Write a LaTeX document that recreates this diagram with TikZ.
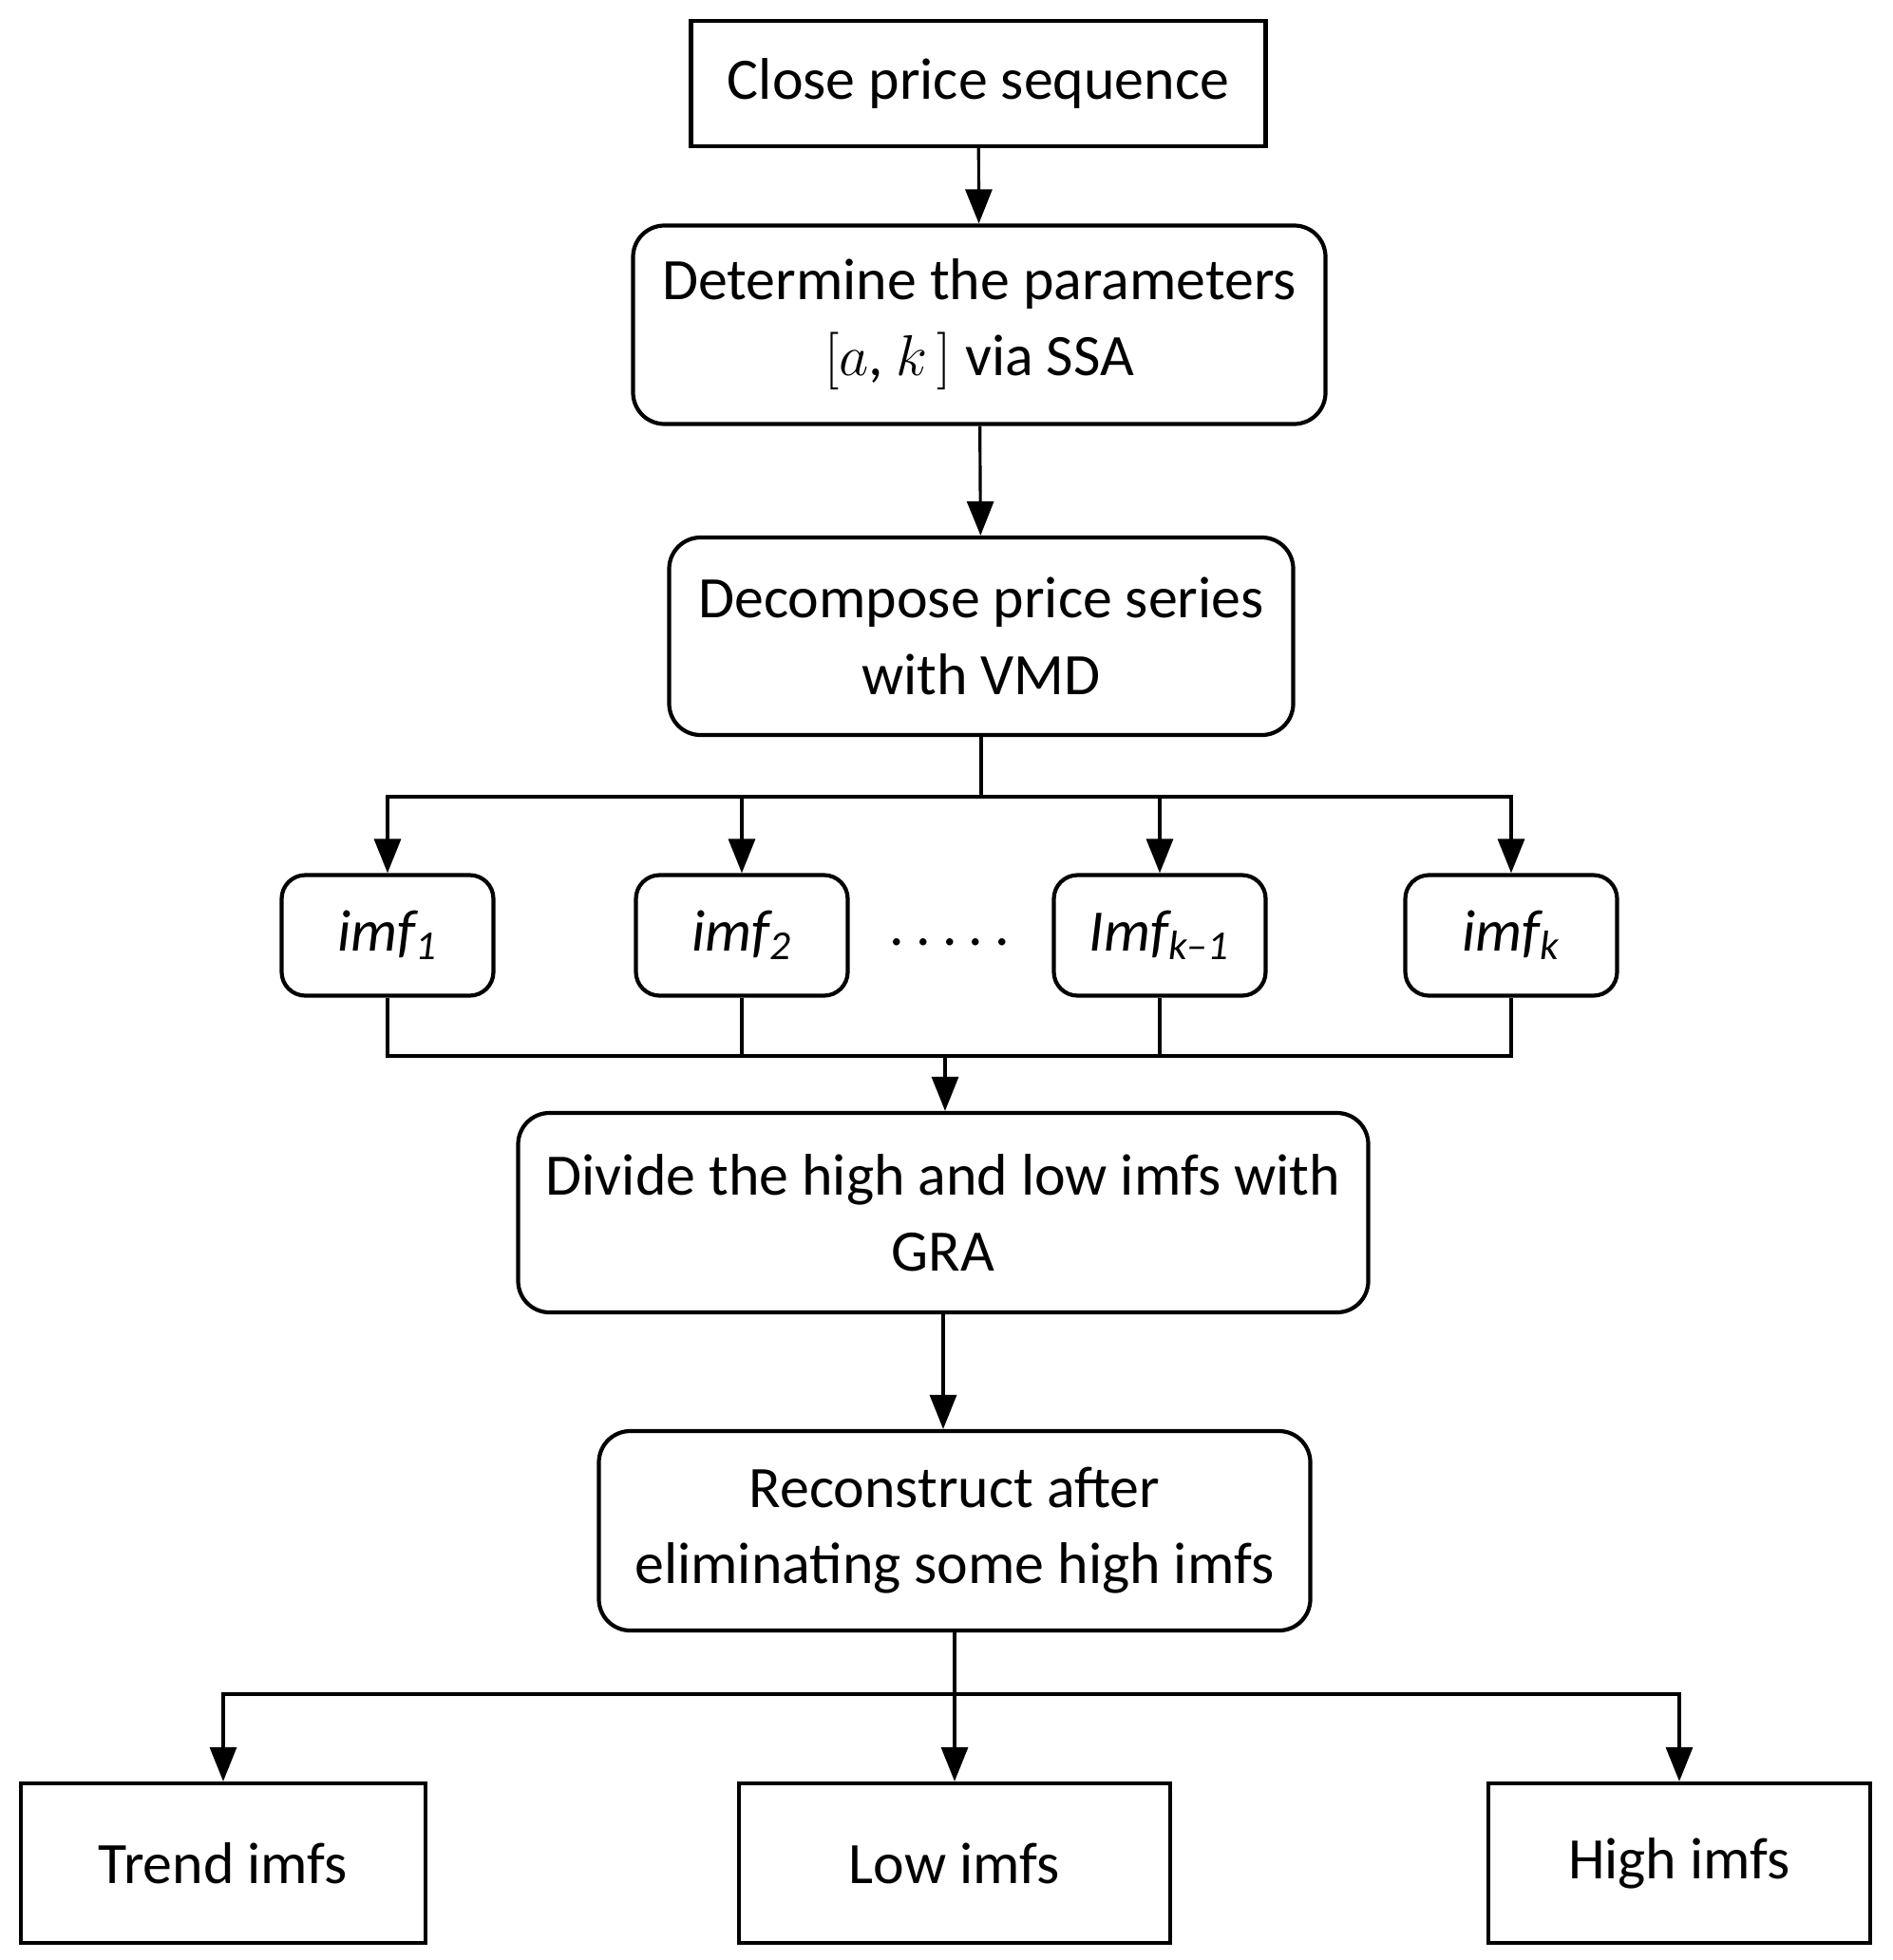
\documentclass[tikz,border=0pt]{standalone}
\usepackage{fontspec}
\setmainfont{Carlito}
\usepackage{tikz}
\usetikzlibrary{arrows.meta}
\usetikzlibrary{shapes,positioning}
\usetikzlibrary{calc}

\begin{document}
\begin{tikzpicture}[
    plain/.style={rectangle, minimum width=2cm, minimum height=1cm, text centered, align=center, draw=black, line width=1.2pt, font=\fontsize{17.6}{22.8}\selectfont},
    rounded/.style={plain, rounded corners=0.33cm},
    imfbox/.style={rectangle, rounded corners=0.25cm, minimum width=2.23cm, minimum height=1.27cm, draw=black, line width=1.2pt, font=\fontsize{17.6}{22.8}\selectfont\itshape},
    line/.style={line width=0.9pt},
    arrow/.style={line, -{Triangle[length=0.36cm, width=0.28cm]}}
]
\useasboundingbox (0,0) rectangle (19.93,-20.64);
\node (close) [plain, minimum width=6.05cm, minimum height=1.32cm] at (10.30,-0.88) {Close price sequence};
\node (param) [rounded, minimum width=7.29cm, minimum height=2.09cm] at (10.31,-3.42) {Determine the parameters\\$[a$, $k\,]$ via SSA};
\node (vmd) [rounded, minimum width=6.57cm, minimum height=2.08cm] at (10.33,-6.70) {Decompose price series\\with VMD};
\coordinate (split) at (10.33,-8.39);
\node (imf1) [imfbox] at (4.08,-9.85) {imf\textsubscript{1}};
\node (imf2) [imfbox] at (7.81,-9.85) {imf\textsubscript{2}};
\node (dots) [anchor=base, font=\fontsize{17.6}{22.8}\selectfont] at (10.00,-9.95) {.\hspace{0.12cm}.\hspace{0.12cm}.\hspace{0.12cm}.\hspace{0.12cm}.};
\node (imfk1) [imfbox] at (12.21,-9.85) {Imf\textsubscript{k--1}};
\node (imfk) [imfbox] at (15.91,-9.85) {imf\textsubscript{k}};
\coordinate (merge) at (9.95,-11.12);
\node (gra) [rounded, minimum width=8.95cm, minimum height=2.10cm] at (9.93,-12.77) {Divide the high and low imfs with\\GRA};
\node (recon) [rounded, minimum width=7.49cm, minimum height=2.10cm] at (10.05,-16.12) {Reconstruct after\\eliminating some high imfs};
\coordinate (fork) at (10.05,-17.84);
\node (trend) [plain, minimum width=4.26cm, minimum height=1.68cm] at (2.35,-19.62) {Trend imfs};
\node (low) [plain, minimum width=4.54cm, minimum height=1.68cm] at (10.05,-19.62) {Low imfs};
\node (high) [plain, minimum width=4.02cm, minimum height=1.68cm] at (17.68,-19.62) {High imfs};
% main chain
\draw [arrow] (close) -- (param);
\draw [arrow] (param) -- (vmd);
% split into imfs
\draw [line] (vmd.south) -- (split);
\draw [arrow] (split) -| (imf1.north);
\draw [arrow] (split) -| (imf2.north);
\draw [arrow] (split) -| (imfk1.north);
\draw [arrow] (split) -| (imfk.north);
% merge imfs
\draw [line] (imf1.south) |- (merge) -| (imfk.south);
\draw [line] (imf2.south) -- (imf2.south |- merge);
\draw [line] (imfk1.south) -- (imfk1.south |- merge);
\draw [arrow] (merge) -- (merge |- gra.north);
\draw [arrow] (gra.south) -- (gra.south |- recon.north);
% output groups
\draw [line] (recon.south) -- (fork);
\draw [arrow] (fork) -| (trend.north);
\draw [arrow] (fork) -- (low.north);
\draw [arrow] (fork) -| (high.north);
\end{tikzpicture}
\end{document}
